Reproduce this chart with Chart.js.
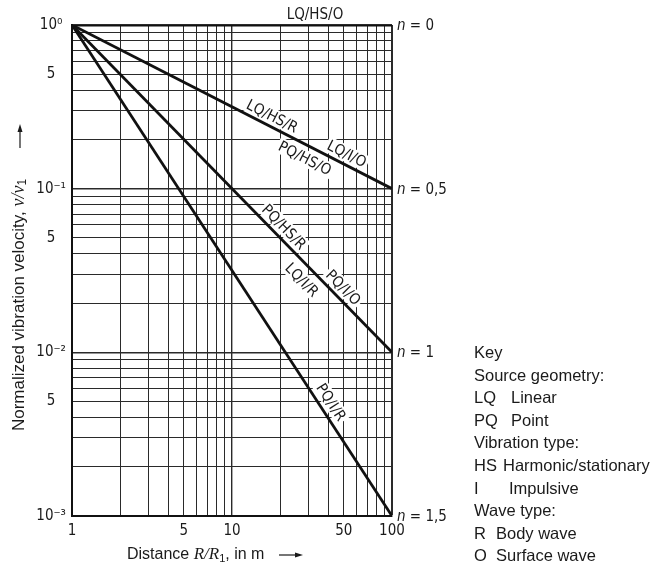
<!DOCTYPE html>
<html>
<head>
<meta charset="utf-8">
<title>Normalized vibration velocity</title>
<script src="https://cdn.jsdelivr.net/npm/chart.js@4.4.0/dist/chart.umd.min.js"></script>
<style>
    html, body { margin: 0; padding: 0; background: #fff; }
    #wrap { position: relative; width: 671px; height: 567px; overflow: hidden; }
    #chart { position: absolute; left: 0; top: 0; }
    .key div {
        position: absolute;
        white-space: nowrap;
        font: 16.5px "Liberation Sans", Arial, sans-serif;
        line-height: 18px;
        color: #1a1a1a;
    }
</style>
</head>
<body>
<div id="wrap">
    <canvas id="chart" width="671" height="567"></canvas>
    <div class="key" id="key"></div>
</div>
<script>
// Data
const distances = [1, 100];
const seriesN0 = [1, 1];
const seriesN05 = [1, 0.1];
const seriesN1 = [1, 0.01];
const seriesN15 = [1, 0.001];
const seriesNames = ['0', '0,5', '1', '1,5'];

const xGrid = [1, 2, 3, 4, 5, 6, 7, 8, 9, 10, 20, 30, 40, 50, 60, 70, 80, 90, 100];
const xLabels = { 1: '1', 5: '5', 10: '10', 50: '50', 100: '100' };
const yGrid = [0.001, 0.002, 0.003, 0.004, 0.005, 0.006, 0.007, 0.008, 0.009,
               0.01, 0.02, 0.03, 0.04, 0.05, 0.06, 0.07, 0.08, 0.09,
               0.1, 0.2, 0.3, 0.4, 0.5, 0.6, 0.7, 0.8, 0.9, 1];
const yLabels = { 1: '10⁰', 0.5: '5', 0.1: '10⁻¹', 0.05: '5', 0.01: '10⁻²', 0.005: '5', 0.001: '10⁻³' };
const decades = [1, 10, 100, 0.1, 0.01, 0.001];

// labels written along the lines: series index, distance where they sit, side offset
const lineLabels = [
    { text: 'LQ/HS/O', series: 0, at: 33, side: 10.5 },
    { text: 'LQ/HS/R', series: 1, at: 16.7, side: 10 },
    { text: 'LQ/I/O', series: 1, at: 48.8, side: 10.5 },
    { text: 'PQ/HS/O', series: 1, at: 31, side: -12.5 },
    { text: 'PQ/HS/R', series: 2, at: 19, side: 10.5 },
    { text: 'PQ/I/O', series: 2, at: 44.5, side: 10.5 },
    { text: 'LQ/I/R', series: 2, at: 31.5, side: -13.8 },
    { text: 'PQ/I/R', series: 3, at: 36.4, side: 11.2 }
];

const keyRows = [
    ['Key'],
    ['Source geometry:'],
    ['LQ', 'Linear', 37],
    ['PQ', 'Point', 37],
    ['Vibration type:'],
    ['HS', 'Harmonic/stationary', 29],
    ['I', 'Impulsive', 35],
    ['Wave type:'],
    ['R', 'Body wave', 22],
    ['O', 'Surface wave', 22]
];

const isoFont = '"DejaVu Sans Condensed", "DejaVu Sans", sans-serif';
const ink = '#1a1a1a';

function toPoints(values) {
    return distances.map((d, i) => ({ x: d, y: values[i] }));
}

const allSeries = [seriesN0, seriesN05, seriesN1, seriesN15];

const annotations = {
    id: 'annotations',
    beforeDatasetsDraw(chart) {
        const { ctx, scales: { x, y } } = chart;
        ctx.save();
        ctx.font = '15px ' + isoFont;
        ctx.textAlign = 'center';
        ctx.textBaseline = 'middle';
        lineLabels.forEach(l => {
            const vals = allSeries[l.series];
            const x0 = x.getPixelForValue(distances[0]), y0 = y.getPixelForValue(vals[0]);
            const x1 = x.getPixelForValue(distances[1]), y1 = y.getPixelForValue(vals[1]);
            const theta = Math.atan2(y1 - y0, x1 - x0);
            const t = (Math.log10(l.at) - Math.log10(distances[0])) / (Math.log10(distances[1]) - Math.log10(distances[0]));
            const yv = Math.pow(10, Math.log10(vals[0]) + t * (Math.log10(vals[1]) - Math.log10(vals[0])));
            const px = x.getPixelForValue(l.at), py = y.getPixelForValue(yv);
            const cx = px + l.side * Math.sin(theta);
            const cy = py - l.side * Math.cos(theta);
            ctx.save();
            ctx.translate(cx, cy);
            ctx.rotate(theta);
            const w = ctx.measureText(l.text).width;
            ctx.fillStyle = '#fff';
            ctx.fillRect(-w / 2 - 2, -8, w + 4, 16);
            ctx.fillStyle = ink;
            ctx.fillText(l.text, 0, 1);
            ctx.restore();
        });
        ctx.restore();
    },
    afterDraw(chart) {
        const { ctx, chartArea, scales: { x, y } } = chart;
        ctx.save();
        ctx.fillStyle = ink;
        ctx.strokeStyle = ink;
        ctx.textBaseline = 'middle';
        ctx.textAlign = 'left';

        // n = ... at the line ends
        allSeries.forEach((vals, i) => {
            const py = y.getPixelForValue(vals[vals.length - 1]) + 1;
            let px = chartArea.right + 5;
            ctx.font = 'italic 15px ' + isoFont;
            ctx.fillText('n', px, py);
            px += ctx.measureText('n').width;
            ctx.font = '15px ' + isoFont;
            ctx.fillText(' = ' + seriesNames[i], px, py);
        });

        // axis titles
        const drawParts = (parts, startX, baseY) => {
            let px = startX;
            parts.forEach(p => {
                ctx.font = p.f;
                ctx.fillText(p.t, px, baseY + (p.dy || 0));
                px += ctx.measureText(p.t).width;
            });
            return px;
        };
        const measureParts = parts => parts.reduce((s, p) => {
            ctx.font = p.f;
            return s + ctx.measureText(p.t).width;
        }, 0);

        const yTitle = [
            { t: 'Normalized vibration velocity, ', f: '17px "Liberation Sans", Arial, sans-serif' },
            { t: 'v/v', f: 'italic 18px "Liberation Serif", serif' },
            { t: '1', f: '12px "Liberation Sans", Arial, sans-serif', dy: 4 }
        ];
        ctx.save();
        ctx.translate(19, 305);
        ctx.rotate(-Math.PI / 2);
        drawParts(yTitle, -measureParts(yTitle) / 2, 0);
        ctx.restore();

        // arrow up
        ctx.lineWidth = 1.2;
        ctx.beginPath();
        ctx.moveTo(20, 148);
        ctx.lineTo(20, 131);
        ctx.stroke();
        ctx.beginPath();
        ctx.moveTo(20, 124);
        ctx.lineTo(17.5, 132);
        ctx.lineTo(22.5, 132);
        ctx.closePath();
        ctx.fill();

        const xTitle = [
            { t: 'Distance ', f: '16px "Liberation Sans", Arial, sans-serif' },
            { t: 'R/R', f: 'italic 17px "Liberation Serif", serif' },
            { t: '1', f: '11px "Liberation Sans", Arial, sans-serif', dy: 4 },
            { t: ', in m', f: '16px "Liberation Sans", Arial, sans-serif' }
        ];
        drawParts(xTitle, 127, 555);

        // arrow right
        ctx.beginPath();
        ctx.moveTo(279, 555);
        ctx.lineTo(296, 555);
        ctx.stroke();
        ctx.beginPath();
        ctx.moveTo(303, 555);
        ctx.lineTo(295, 552.5);
        ctx.lineTo(295, 557.5);
        ctx.closePath();
        ctx.fill();

        ctx.restore();
    }
};

const gridWidth = ctx => {
    const v = ctx.tick ? ctx.tick.value : 0;
    if (v === 100) return 2;
    return decades.includes(v) ? 1.4 : 1;
};

new Chart(document.getElementById('chart'), {
    type: 'line',
    data: {
        datasets: allSeries.map((vals, i) => ({
            label: 'n = ' + seriesNames[i],
            data: toPoints(vals),
            borderColor: '#111',
            borderWidth: 2.8,
            pointRadius: 0,
            fill: false,
            tension: 0
        }))
    },
    options: {
        responsive: false,
        animation: false,
        devicePixelRatio: 1,
        layout: { padding: { top: 25, right: 279, left: 0, bottom: 0 } },
        plugins: { legend: { display: false }, tooltip: { enabled: false } },
        scales: {
            x: {
                type: 'logarithmic',
                min: 1,
                max: 100,
                afterBuildTicks: s => { s.ticks = xGrid.map(v => ({ value: v })); },
                afterFit: s => { s.height = 51; },
                grid: { color: '#2a2a2a', lineWidth: gridWidth, drawTicks: false },
                border: { color: '#111', width: 2 },
                ticks: {
                    autoSkip: false,
                    maxRotation: 0,
                    padding: 6,
                    color: ink,
                    font: { family: isoFont, size: 15 },
                    callback: v => xLabels[v] || ''
                }
            },
            y: {
                type: 'logarithmic',
                min: 0.001,
                max: 1,
                afterBuildTicks: s => { s.ticks = yGrid.map(v => ({ value: v })); },
                afterFit: s => { s.width = 72; },
                grid: { color: '#2a2a2a', lineWidth: gridWidth, drawTicks: false },
                border: { color: '#111', width: 2 },
                ticks: {
                    autoSkip: false,
                    crossAlign: 'center',
                    padding: 6,
                    color: ink,
                    font: { family: isoFont, size: 15 },
                    callback: v => yLabels[v] || ''
                }
            }
        }
    },
    plugins: [annotations]
});

// key on the right
const keyEl = document.getElementById('key');
keyRows.forEach((row, i) => {
    const top = 352 + i * 22.6 - 9;
    const a = document.createElement('div');
    a.style.left = '474px';
    a.style.top = top + 'px';
    a.textContent = row[0];
    keyEl.appendChild(a);
    if (row[1]) {
        const b = document.createElement('div');
        b.style.left = (474 + row[2]) + 'px';
        b.style.top = top + 'px';
        b.textContent = row[1];
        keyEl.appendChild(b);
    }
});
</script>
</body>
</html>
